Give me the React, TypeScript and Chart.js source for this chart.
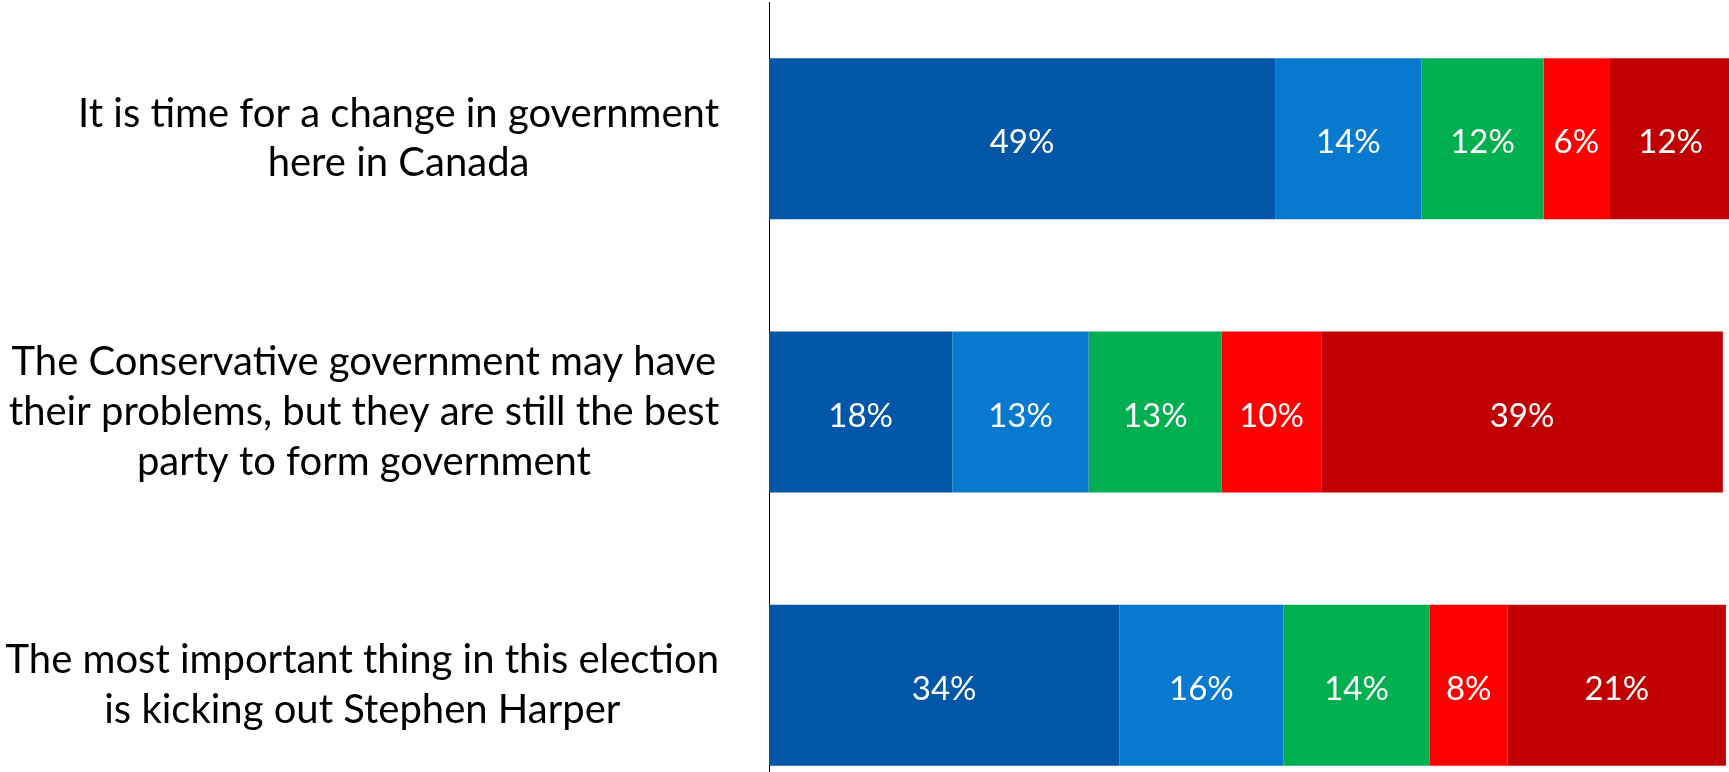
import React, { useEffect, useRef } from "react";
import { Chart, registerables } from "chart.js";

Chart.register(...registerables);

// ---- Data ----
const categoryLines: string[][] = [
  ["It is time for a change in government", "here in Canada"],
  [
    "The Conservative government may have",
    "their problems, but they are still the best",
    "party to form government",
  ],
  ["The most important thing in this election", "is kicking out Stephen Harper"],
];
const categories = categoryLines.map((l) => l.join(" "));

const seriesNames = ["Series 1", "Series 2", "Series 3", "Series 4", "Series 5"];
// values (labels show rounded percentages)
const series1 = [49.4, 17.9, 34.2];
const series2 = [14.3, 13.3, 16.0];
const series3 = [11.9, 13.0, 14.3];
const series4 = [6.4, 9.7, 7.6];
const series5 = [12.0, 39.2, 21.3];
const seriesColors = ["#0256A8", "#0779CE", "#00B050", "#FF0000", "#C00000"];

const X_MAX = 93.7;
const CAT_FONT = 40;
const DATA_FONT = 33;
const FONT_FAMILY = "Lato, 'Open Sans', sans-serif";

const categoryLabelPlugin = {
  id: "categoryLabels",
  afterDraw(chart: any) {
    const { ctx, chartArea } = chart;
    const yScale = chart.scales.y;
    const right = chartArea.left - 50;
    const lineHeight = 49.6;
    ctx.save();
    ctx.font = `${CAT_FONT}px ${FONT_FAMILY}`;
    ctx.fillStyle = "#000000";
    ctx.textAlign = "center";
    ctx.textBaseline = "middle";
    categoryLines.forEach((lines, i) => {
      const cy = yScale.getPixelForValue(i);
      const w = Math.max(...lines.map((l) => ctx.measureText(l).width));
      const cx = right - w / 2;
      lines.forEach((line, j) => {
        ctx.fillText(line, cx, cy + (j - (lines.length - 1) / 2) * lineHeight);
      });
    });
    ctx.restore();
  },
};

const dataLabelPlugin = {
  id: "dataLabels",
  afterDatasetsDraw(chart: any) {
    const { ctx } = chart;
    ctx.save();
    ctx.font = `${DATA_FONT}px ${FONT_FAMILY}`;
    ctx.fillStyle = "#FFFFFF";
    ctx.textAlign = "center";
    ctx.textBaseline = "middle";
    chart.data.datasets.forEach((ds: any, di: number) => {
      const meta = chart.getDatasetMeta(di);
      meta.data.forEach((bar: any, i: number) => {
        const { x, y, base } = bar.getProps(["x", "y", "base"], true);
        ctx.fillText(`${Math.round(ds.data[i])}%`, (x + base) / 2, y + 4);
      });
    });
    ctx.restore();
  },
};

export default function App() {
  const canvasRef = useRef<HTMLCanvasElement | null>(null);

  useEffect(() => {
    document.body.style.overflow = "hidden";
    const canvas = canvasRef.current;
    if (!canvas) return;
    const all = [series1, series2, series3, series4, series5];
    const chart = new Chart(canvas, {
      type: "bar",
      data: {
        labels: categories,
        datasets: all.map((d, i) => ({
          label: seriesNames[i],
          data: d,
          backgroundColor: seriesColors[i],
          borderWidth: 0,
          categoryPercentage: 1,
          barPercentage: 0.589,
        })),
      },
      options: {
        indexAxis: "y",
        animation: false,
        responsive: true,
        maintainAspectRatio: false,
        layout: { padding: { top: 2, right: 0, bottom: 0, left: 0 } },
        plugins: {
          legend: { display: false },
          tooltip: { enabled: false },
        },
        scales: {
          x: {
            stacked: true,
            min: 0,
            max: X_MAX,
            display: false,
          },
          y: {
            stacked: true,
            grid: { display: false },
            ticks: { display: false },
            border: { display: true, color: "#000000", width: 1 },
            afterFit: (scale: any) => {
              scale.width = 769;
            },
          },
        },
      },
      plugins: [categoryLabelPlugin, dataLabelPlugin],
    });
    return () => chart.destroy();
  }, []);

  return (
    <div
      style={{
        position: "fixed",
        left: 0,
        top: 0,
        width: "1729px",
        height: "822px",
        background: "#FFFFFF",
      }}
    >
      <canvas ref={canvasRef} />
    </div>
  );
}
